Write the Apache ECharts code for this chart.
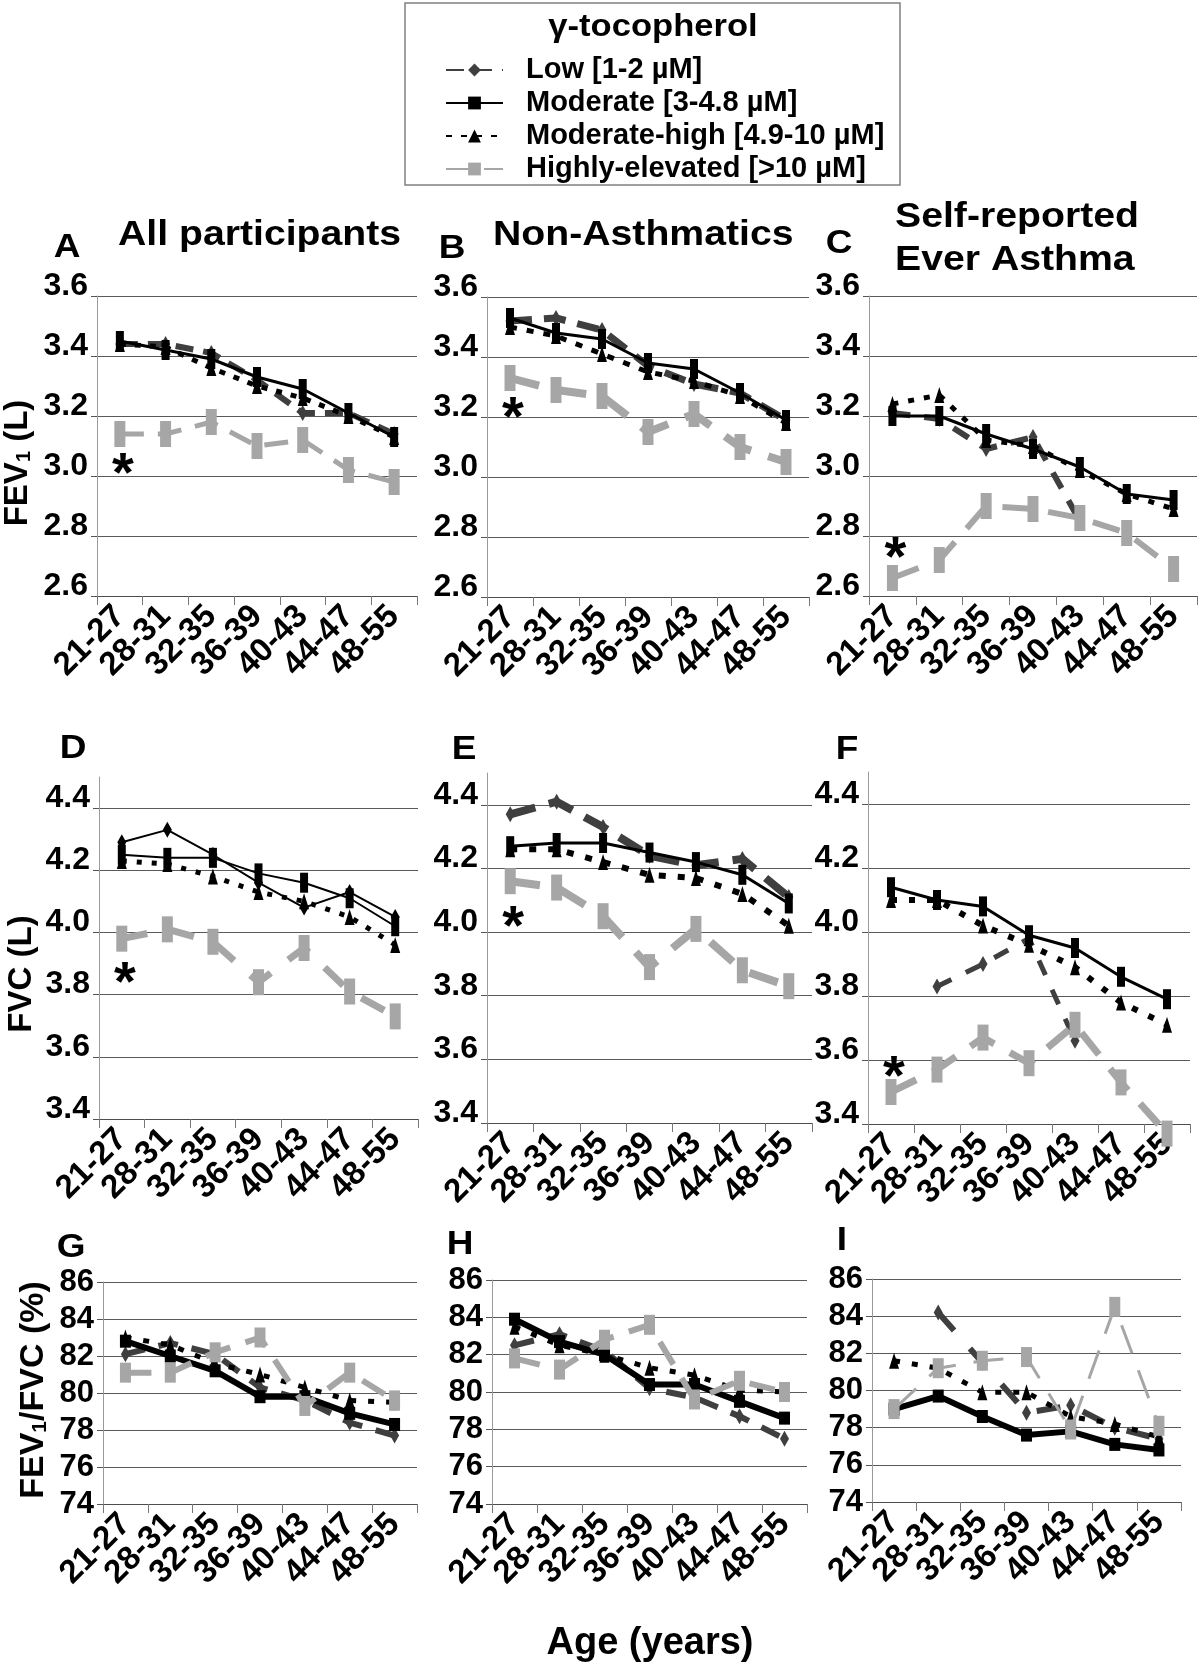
<!DOCTYPE html>
<html>
<head>
<meta charset="utf-8">
<script src="https://cdn.jsdelivr.net/npm/echarts@6/dist/echarts.min.js"></script>
<style>
html,body{margin:0;padding:0;background:#fff;}
#c{width:1200px;height:1669px;}
</style>
</head>
<body>
<div id="c"></div>
<script>
// ---------------- DATA ----------------
const categories = ['21-27', '28-31', '32-35', '36-39', '40-43', '44-47', '48-55'];
const seriesNames = ['Low [1-2 µM]', 'Moderate [3-4.8 µM]', 'Moderate-high [4.9-10 µM]', 'Highly-elevated [>10 µM]'];
const legendTitle = 'γ-tocopherol';
const panelLetters = ['A', 'B', 'C', 'D', 'E', 'F', 'G', 'H', 'I'];
const columnTitles = ['All participants', 'Non-Asthmatics', 'Self-reported', 'Ever Asthma'];
const xAxisTitle = 'Age (years)';

// A: FEV1, all participants
const fev1AllLow = [3.44, 3.44, 3.41, 3.32, 3.21, 3.21, 3.14];
const fev1AllMod = [3.45, 3.42, 3.39, 3.33, 3.29, 3.21, 3.13];
const fev1AllMH  = [3.44, 3.43, 3.36, 3.30, 3.26, 3.20, 3.13];
const fev1AllHi  = [3.14, 3.14, 3.18, 3.10, 3.12, 3.02, 2.98];
// B: FEV1, non-asthmatics
const fev1NonLow = [3.52, 3.53, 3.49, 3.37, 3.31, 3.28, 3.19];
const fev1NonMod = [3.53, 3.48, 3.46, 3.38, 3.36, 3.28, 3.19];
const fev1NonMH  = [3.50, 3.47, 3.41, 3.35, 3.32, 3.27, 3.18];
const fev1NonHi  = [3.33, 3.29, 3.27, 3.15, 3.21, 3.10, 3.05];
// C: FEV1, self-reported ever asthma
const fev1AsLow = [3.21, 3.19, 3.09, 3.13, 2.85, null, null];
const fev1AsMod = [3.20, 3.20, 3.14, 3.09, 3.03, 2.94, 2.92];
const fev1AsMH  = [3.24, 3.27, 3.12, 3.10, 3.02, 2.94, 2.89];
const fev1AsHi  = [2.66, 2.72, 2.90, 2.89, 2.86, 2.81, 2.69];
// D: FVC, all participants
const fvcAllLow = [4.29, 4.33, 4.25, 4.16, 4.08, 4.13, 4.05];
const fvcAllMod = [4.25, 4.24, 4.24, 4.19, 4.16, 4.11, 4.02];
const fvcAllMH  = [4.23, 4.22, 4.18, 4.13, 4.10, 4.05, 3.96];
const fvcAllHi  = [3.98, 4.01, 3.97, 3.84, 3.95, 3.81, 3.73];
// E: FVC, non-asthmatics
const fvcNonLow = [4.37, 4.41, 4.33, 4.24, 4.21, 4.23, 4.11];
const fvcNonMod = [4.27, 4.28, 4.28, 4.25, 4.22, 4.18, 4.09];
const fvcNonMH  = [4.26, 4.26, 4.22, 4.18, 4.17, 4.12, 4.02];
const fvcNonHi  = [4.16, 4.14, 4.05, 3.89, 4.01, 3.88, 3.83];
// F: FVC, self-reported ever asthma
const fvcAsLow = [null, 3.83, 3.90, 3.98, 3.66, null, null];
const fvcAsMod = [4.14, 4.10, 4.08, 3.99, 3.95, 3.86, 3.79];
const fvcAsMH  = [4.10, 4.10, 4.02, 3.96, 3.89, 3.78, 3.71];
const fvcAsHi  = [3.50, 3.57, 3.67, 3.59, 3.71, 3.53, 3.37];
// G: FEV1/FVC, all participants
const ratioAllLow = [82.1, 82.7, 82.1, 80.3, 79.6, 78.4, 77.7];
const ratioAllMod = [82.8, 82.0, 81.2, 79.8, 79.8, 78.9, 78.3];
const ratioAllMH  = [83.0, 82.6, 81.6, 81.0, 80.3, 79.6, 79.5];
const ratioAllHi  = [81.1, 81.1, 82.2, 83.0, 79.3, 81.1, 79.6];
// H: FEV1/FVC, non-asthmatics
const ratioNonLow = [82.5, 83.1, 82.2, 80.2, 79.7, 78.7, 77.5];
const ratioNonMod = [83.9, 82.7, 82.0, 80.4, 80.4, 79.5, 78.6];
const ratioNonMH  = [83.5, 82.5, 82.0, 81.3, 80.9, 80.1, 80.0];
const ratioNonHi  = [81.8, 81.2, 82.8, 83.6, 79.6, 80.6, 80.0];
// I: FEV1/FVC, self-reported ever asthma
const ratioAsLow = [null, 84.2, 81.5, 78.8, 79.2, 78.0, 77.4];
const ratioAsMod = [79.0, 79.7, 78.6, 77.6, 77.8, 77.1, 76.8];
const ratioAsMH  = [81.6, 81.2, 79.9, 79.9, 78.6, 78.2, 77.5];
const ratioAsHi  = [79.0, 81.2, 81.6, 81.8, 77.9, 84.5, 78.1];

// significance marks (*) at the first age group, panels A-F
const asteriskY = [3.04, 3.23, 2.76, 3.87, 4.05, 3.58];

// y-axis ticks
const fev1Ticks = [2.6, 2.8, 3.0, 3.2, 3.4, 3.6];
const fvcTicks = [3.4, 3.6, 3.8, 4.0, 4.2, 4.4];
const ratioTicks = [74, 76, 78, 80, 82, 84, 86];

// ---------------- LAYOUT / STYLE ----------------
const FONT = '"Liberation Sans", Arial, Helvetica, sans-serif';
const COLORS = ['#3f3f3f', '#000000', '#000000', '#a6a6a6'];

const panelData = [
  [fev1AllLow, fev1AllMod, fev1AllMH, fev1AllHi],
  [fev1NonLow, fev1NonMod, fev1NonMH, fev1NonHi],
  [fev1AsLow, fev1AsMod, fev1AsMH, fev1AsHi],
  [fvcAllLow, fvcAllMod, fvcAllMH, fvcAllHi],
  [fvcNonLow, fvcNonMod, fvcNonMH, fvcNonHi],
  [fvcAsLow, fvcAsMod, fvcAsMH, fvcAsHi],
  [ratioAllLow, ratioAllMod, ratioAllMH, ratioAllHi],
  [ratioNonLow, ratioNonMod, ratioNonMH, ratioNonHi],
  [ratioAsLow, ratioAsMod, ratioAsMH, ratioAsHi]
];

const grids = [
  {left: 97,  top: 296, width: 320, height: 300},
  {left: 487, top: 297, width: 322, height: 300},
  {left: 869, top: 296, width: 328, height: 300},
  {left: 99,  top: 777, width: 319, height: 342},
  {left: 487, top: 773, width: 325, height: 350},
  {left: 868, top: 772, width: 322, height: 352},
  {left: 103, top: 1282, width: 314, height: 222},
  {left: 492, top: 1280, width: 315, height: 224},
  {left: 872, top: 1279, width: 309, height: 223}
];

// line styles per panel: [low, moderate, moderate-high, highly-elevated]
const styles = [
  [{w: 6, t: [18, 10]}, {w: 3}, {w: 5, t: [6, 9]},  {w: 5, t: [24, 14]}],
  [{w: 7, t: [22, 12]}, {w: 3}, {w: 5, t: [7, 10]}, {w: 8, t: [30, 18]}],
  [{w: 6, t: [18, 14]}, {w: 3}, {w: 5, t: [6, 10]}, {w: 6, t: [28, 18]}],
  [{w: 2, t: 'solid', c: '#000'}, {w: 2}, {w: 5, t: [5, 10]}, {w: 7, t: [26, 22]}],
  [{w: 8, t: [26, 14]}, {w: 3}, {w: 6, t: [7, 12]}, {w: 8, t: [30, 20]}],
  [{w: 5, t: [16, 16]}, {w: 3}, {w: 6, t: [6, 12]}, {w: 7, t: [28, 18]}],
  [{w: 6, t: [20, 14]}, {w: 6}, {w: 5, t: [6, 12]}, {w: 6, t: [26, 16]}],
  [{w: 6, t: [20, 14]}, {w: 6}, {w: 5, t: [6, 12]}, {w: 6, t: [26, 16]}],
  [{w: 6, t: [24, 24]}, {w: 6}, {w: 5, t: [6, 12]}, {w: 3, t: [30, 18]}]
];

const symbols = ['diamond', 'rect', 'triangle', 'rect'];

const xAxes = [], yAxes = [], series = [];

grids.forEach((g, i) => {
  const row = Math.floor(i / 3);
  xAxes.push({
    type: 'category', gridIndex: i, data: categories, boundaryGap: true,
    axisLine: {show: true, onZero: false, lineStyle: {color: '#4d4d4d', width: 1}},
    axisTick: {show: true, length: 9, lineStyle: {color: '#777'}},
    axisLabel: {interval: 0, rotate: 45, margin: 15, fontSize: 33, fontWeight: 'bold',
                fontFamily: FONT, color: '#000'},
    splitLine: {show: false}
  });
  let yCfg;
  if (row === 0) {
    yCfg = {min: 2.6, max: 3.6, interval: 0.2, ticks: fev1Ticks, dec: 1, raised: true};
  } else if (row === 1) {
    yCfg = {min: 3.4, max: 4.5, interval: 0.2, ticks: fvcTicks, dec: 1, raised: true};
  } else {
    yCfg = {min: 74, max: 86, interval: 2, ticks: ratioTicks, dec: 0, raised: false};
  }
  const yLabel = {
    margin: 9, fontSize: row === 2 ? 31 : 32, fontWeight: 'bold', fontFamily: FONT, color: '#000',
    customValues: yCfg.ticks,
    formatter: v => Number(v).toFixed(yCfg.dec)
  };
  if (yCfg.raised) {
    yLabel.verticalAlign = 'bottom';
    yLabel.lineHeight = 20;
  }
  yAxes.push({
    type: 'value', gridIndex: i, min: yCfg.min, max: yCfg.max, interval: yCfg.interval,
    axisLine: {show: true, lineStyle: {color: '#9a9a9a', width: 1}},
    axisTick: {show: true, length: 6, lineStyle: {color: '#555'}, customValues: yCfg.ticks},
    axisLabel: yLabel,
    splitLine: {show: true, lineStyle: {color: '#5a5a5a', width: 1}}
  });

  panelData[i].forEach((arr, k) => {
    const st = styles[i][k];
    let size;
    if (k === 0) size = [9, 16];
    else if (k === 1) size = row === 2 ? [11, 13] : [8, 20];
    else if (k === 2) size = [10, 16];
    else size = row === 2 ? [11, 20] : [11, 26];
    const s = {
      type: 'line', name: seriesNames[k], xAxisIndex: i, yAxisIndex: i, data: arr,
      symbol: symbols[k], symbolSize: size, showSymbol: true, showAllSymbol: true,
      connectNulls: false, animation: false, silent: true, clip: false,
      lineStyle: {color: st.c || COLORS[k], width: st.w, type: st.t || 'solid', cap: 'butt'},
      itemStyle: {color: st.c || COLORS[k]},
      emphasis: {disabled: true},
      z: 2 + k
    };
    if (k === 3 && i < 6) {
      s.markPoint = {
        silent: true, animation: false, symbol: 'circle', symbolSize: 1,
        itemStyle: {color: 'rgba(0,0,0,0)'},
        label: {show: true, position: 'inside', formatter: '*', fontSize: 56, fontWeight: 'bold',
                fontFamily: FONT, color: '#000', offset: [3, 12]},
        data: [{coord: [categories[0], asteriskY[i]]}]
      };
    }
    series.push(s);
  });
});

// ---------------- TEXT (graphic) ----------------
function txt(x, y, text, size, o) {
  o = o || {};
  return {
    type: 'text', x: x, y: y, scaleX: o.sx || 1, scaleY: o.sy || 1, rotation: o.rot || 0, silent: true,
    style: {
      text: text, fontSize: size, fontWeight: 'bold', fontFamily: FONT, fill: '#000',
      align: o.align || 'center', verticalAlign: 'middle', rich: o.rich
    }
  };
}
const letterPos = [[67, 248], [452, 249], [839, 244], [73, 749], [464, 750], [847, 750], [71, 1248], [460, 1245], [842, 1241]];
const graphics = [];
panelLetters.forEach((L, i) => graphics.push(txt(letterPos[i][0], letterPos[i][1], L, 33, {sx: 1.12})));
graphics.push(txt(118, 235, columnTitles[0], 35, {align: 'left', sx: 1.12}));
graphics.push(txt(493, 235, columnTitles[1], 35, {align: 'left', sx: 1.12}));
graphics.push(txt(895, 217, columnTitles[2], 35, {align: 'left', sx: 1.12}));
graphics.push(txt(895, 260, columnTitles[3], 35, {align: 'left', sx: 1.12}));

const subRich = size => ({
  a: {fontSize: size, fontWeight: 'bold', fontFamily: FONT, fill: '#000', verticalAlign: 'bottom', lineHeight: size},
  s: {fontSize: Math.round(size * 0.62), fontWeight: 'bold', fontFamily: FONT, fill: '#000', verticalAlign: 'bottom', lineHeight: Math.round(size * 0.3)}
});
graphics.push(txt(18, 463, '{a|FEV}{s|1}{a| (L)}', 33, {rot: Math.PI / 2, rich: subRich(33)}));
graphics.push(txt(22, 974, 'FVC (L)', 33, {rot: Math.PI / 2}));
graphics.push(txt(34, 1390, '{a|FEV}{s|1}{a|/FVC (%)}', 34, {rot: Math.PI / 2, rich: subRich(34)}));
graphics.push(txt(650, 1644, xAxisTitle, 38));

// legend frame + title
graphics.push({
  type: 'rect', silent: true, shape: {x: 405, y: 3, width: 495, height: 182},
  style: {fill: 'none', stroke: '#808080', lineWidth: 1.5}
});
graphics.push(txt(653, 27, legendTitle, 32, {sx: 1.08}));

const option = {
  backgroundColor: '#fff',
  animation: false,
  legend: {
    show: true, data: seriesNames, orient: 'vertical', left: 440, top: 50,
    itemWidth: 57, itemHeight: 16, itemGap: 3, selectedMode: false,
    textStyle: {fontSize: 29, fontWeight: 'bold', fontFamily: FONT, color: '#000', lineHeight: 30, padding: [0, 0, 0, 18]}
  },
  grid: grids,
  xAxis: xAxes,
  yAxis: yAxes,
  series: series,
  graphic: graphics
};

const chart = echarts.init(document.getElementById('c'), null, {renderer: 'canvas', width: 1200, height: 1669});
chart.setOption(option);
</script>
</body>
</html>
